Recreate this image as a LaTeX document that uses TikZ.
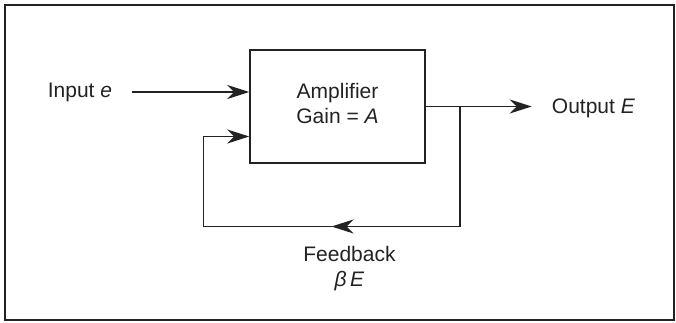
\documentclass[tikz,border=0pt]{standalone}
\usepackage{fontspec}
\setmainfont{Liberation Sans}
\usetikzlibrary{positioning,arrows.meta,calc}
\definecolor{inkGray}{HTML}{222222}
\tikzset{
  x=1pt, y=1pt,
  amp/.style={draw=inkGray, line width=1.5pt, minimum width=175pt, minimum height=113pt,
              align=center, font=\fontsize{21}{23.5}\selectfont, text=inkGray},
  lbl/.style={font=\fontsize{21}{24.5}\selectfont, text=inkGray, inner sep=0pt, align=center},
  wire/.style={draw=inkGray, line width=1.5pt},
  flow/.style={wire, -{Stealth[length=22pt, width=14pt, inset=7pt]}},
}

\begin{document}
\begin{tikzpicture}
    \useasboundingbox (0,0) rectangle (676,322);
    \draw[inkGray, line width=1.8pt] (5,2) rectangle (674,317);

    \node[amp] (amp) at (337.5,215.5) {};
    \node[lbl] (ampTxt) at ([yshift=3pt]amp.center) {Amplifier\\Gain = \textit{A}};

    % input side
    \coordinate (inTip) at ([yshift=14.5pt]amp.west);
    \coordinate (inStart) at ([xshift=-117pt]inTip);
    \node[lbl, left=20pt of inStart] (in) {Input \textit{e}};
    \draw[flow] (inStart) -- (inTip);

    % output side
    \coordinate (tap) at ([xshift=34pt]amp.east);
    \coordinate (outEnd) at ([xshift=106pt]amp.east);
    \node[lbl, right=20pt of outEnd, yshift=-2pt] (out) {Output \textit{E}};
    \draw[flow] (amp.east) -- (outEnd);

    % feedback loop
    \coordinate (fbR) at ([yshift=-120pt]tap);
    \coordinate (fbL) at ([xshift=-46pt]amp.west |- fbR);
    \coordinate (fbIn) at ([yshift=-30pt]amp.west);
    \draw[wire] (tap) -- (fbR);
    \draw[flow] (fbR) -- ($(fbL)!0.5!(fbR)$);
    \draw[flow] ($(fbL)!0.5!(fbR)$) -- (fbL) |- (fbIn);
    \node[lbl, below=20pt of {$(fbL)!0.57!(fbR)$}] (fb) {Feedback\\\textit{β}\,\textit{E}};
\end{tikzpicture}
\end{document}
